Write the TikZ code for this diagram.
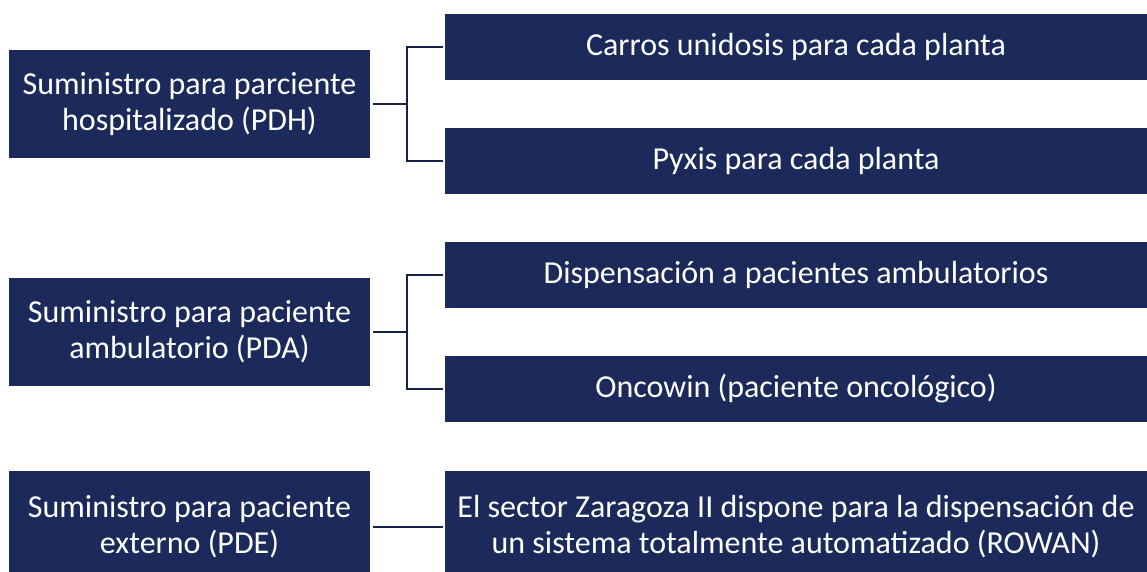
\documentclass[tikz,border=0pt]{standalone}
\usepackage{fontspec}
\setmainfont{Carlito}
\definecolor{boxblue}{RGB}{27,42,90}
\definecolor{linenavy}{RGB}{22,32,72}
\begin{document}
\begin{tikzpicture}[x=1pt,y=-1pt,
  box/.style={fill=boxblue,draw=none,text=white,align=center,font=\fontsize{32}{36}\selectfont},
  conn/.style={draw=linenavy,line width=2.6pt}]
\useasboundingbox[fill=white] (0,0) rectangle (1147,572);
% left boxes
\node[box,minimum width=361pt,minimum height=108pt,inner sep=0pt] (L1) at (189.5,104) {Suministro para parciente\\hospitalizado (PDH)};
\node[box,minimum width=361pt,minimum height=108pt,inner sep=0pt] (L2) at (189.5,332) {Suministro para paciente\\ambulatorio (PDA)};
\path[box] (9,471) rectangle (370,572);
\node[text=white,align=center,font=\fontsize{32}{36}\selectfont] (L3) at (189.5,527) {Suministro para paciente\\externo (PDE)};
% right boxes
\node[box,minimum width=702pt,minimum height=66pt,inner sep=0pt] (R1) at (796,47) {Carros unidosis para cada planta};
\node[box,minimum width=702pt,minimum height=66pt,inner sep=0pt] (R2) at (796,161) {Pyxis para cada planta};
\node[box,minimum width=702pt,minimum height=66pt,inner sep=0pt] (R3) at (796,275) {Dispensación a pacientes ambulatorios};
\node[box,minimum width=702pt,minimum height=66pt,inner sep=0pt] (R4) at (796,389) {Oncowin (paciente oncológico)};
\path[box] (445,471) rectangle (1147,572);
\node[text=white,align=center,font=\fontsize{32}{36}\selectfont] (R5) at (796,527) {El sector Zaragoza II dispone para la dispensación de\\un sistema totalmente automatizado (ROWAN)};
% connectors
\coordinate (J1) at (407,104);
\coordinate (J2) at (407,332);
\draw[conn] ([xshift=3pt]L1.east) -- (J1);
\draw[conn] ([xshift=-2pt]R1.west) -| (J1) |- ([xshift=-2pt]R2.west);
\draw[conn] ([xshift=3pt]L2.east) -- (J2);
\draw[conn] ([xshift=-2pt]R3.west) -| (J2) |- ([xshift=-2pt]R4.west);
\draw[conn] ([xshift=3pt]L3.east -| L1.east) -- ([xshift=-2pt]R5.west -| R1.west);
\end{tikzpicture}
\end{document}
